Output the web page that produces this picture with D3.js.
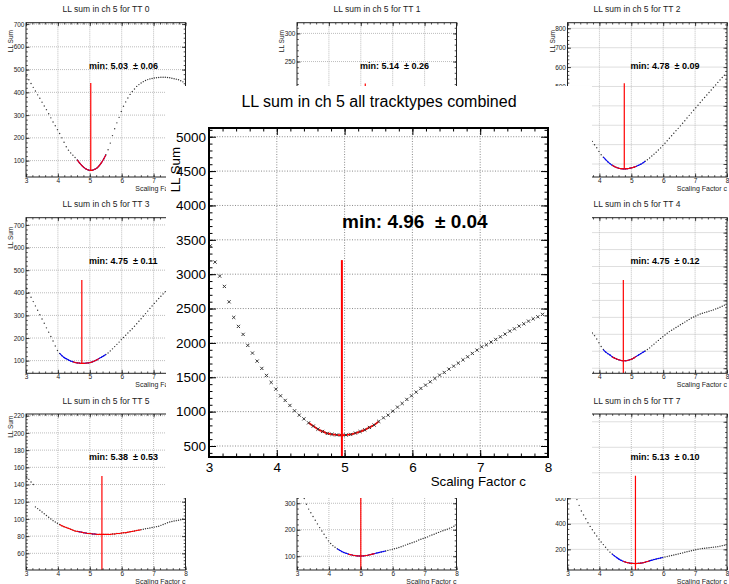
<!DOCTYPE html>
<html>
<head>
<meta charset="utf-8">
<script src="https://cdn.jsdelivr.net/npm/d3@7"></script>
<style>
body { margin: 0; background: #fff; }
svg { display: block; font-family: 'Liberation Sans', Arial, Helvetica, sans-serif; }
</style>
</head>
<body>
<script>
// Valeurs
var scalingFactor = [3.020,3.089,3.158,3.227,3.296,3.365,3.434,3.503,3.572,3.641,3.710,3.779,3.848,3.917,3.986,4.055,4.124,4.193,4.262,4.331,4.400,4.469,4.538,4.607,4.676,4.745,4.814,4.883,4.952,5.021,5.090,5.159,5.228,5.297,5.366,5.435,5.504,5.573,5.642,5.711,5.780,5.849,5.918,5.987,6.056,6.125,6.194,6.263,6.332,6.401,6.470,6.539,6.608,6.677,6.746,6.815,6.884,6.953,7.022,7.091,7.160,7.229,7.298,7.367,7.436,7.505,7.574,7.643,7.712,7.781,7.850,7.919]

var llSumAll = [3413,3176,2972,2822,2598,2371,2240,2124,1964,1852,1735,1629,1527,1425,1328,1230,1163,1090,1012,949,895,837,
    790,745,712,683,670,662,658,660,668,688,710,735,770,805,858,
    910,949,1007,1066,1119,1178,1230,1284,1338,1386,1434,1483,1531,1570,1619,1662,1706,1754,1798,1847,1895,1943,1972,2012,2051,2089,2128,2172,2205,2245,2278,2317,2351,2380,2415]

var llSumTT0 = [472,455,439,422,406,389,374,357,340,324,306,288,270,253,236,219,200,181,161,146,134,124,114,103,90,79,70,63,59,57,58,62,68,78,91,107,126,148,177,210,240,266,290,316,339,358,375,391,404,415,426,434,441,447,452,456,459,461,463,464,465,466,466,466,465,464,462,460,458,455,451,446]
var llSumTT1 = [200,195,190,185,180,175,170,165,160,155,150,145,140,135,130,125,120,115,111,107,103,100,97,94,92,90,88,87,86,85,85,85,85,86,87,88,90,92,94,96,98,100,103,106,109,112,115,118,121,124,127,130,133,136,139,142,145,148,151,154,157,160,163,166,169,172,175,178,181,184,187,190]
var llSumTT2 = [420,404,388,371,354,336,318,299,279,258,237,217,199,184,165,148,135,123,112,102,94,87,82,78,76,75,75,76,78,81,84,88,93,99,106,114,122,131,141,151,161,172,183,195,207,220,233,246,259,272,284,297,310,323,337,351,364,377,390,403,417,430,443,456,469,482,495,508,521,534,546,558]
var llSumTT3 = [420,400,380,361,342,323,303,284,265,245,226,207,187,165,145,132,122,114,108,103,98,95,92,90,89,88,88,89,90,92,95,99,104,110,115,121,127,134,143,152,162,172,182,193,202,212,222,232,241,252,263,274,285,296,308,319,331,342,353,364,375,385,395,405,415,425,435,445,455,465,474,484]
var llSumTT4 = [330,312,295,277,259,242,224,207,190,173,162,154,146,136,125,114,105,98,93,89,84,80,77,75,73,72,72,73,75,77,81,85,89,93,97,101,105,110,116,121,127,132,138,143,148,153,158,162,166,170,174,178,182,186,190,194,198,201,204,207,210,212,214,216,218,220,222,225,227,230,233,236]
var llSumTT5 = [149,146,143,140,114,112,110,108,106,104,102,100,98,96.5,95,93.5,92,91,90,89,88,87,86,85.5,85,84.5,84,83.5,83,83,82.5,82.5,82,82,82,82,82,82,82,82.5,82.5,83,83,83.5,84,84,84.5,85,85.5,86,86.5,87,87.5,88,88.5,89,89.5,90,90.5,91,91.5,92.5,93.5,94.5,95.5,96.5,97,97.5,98,98.5,99,100]
var llSumTT6 = [384,362,340,318,296,278,264,250,236,222,208,195,183,170,158,148,140,134,128,123,118,114,111,108,106,104,102.5,101.5,101,101,101.5,102.5,104,106,108,110,112,114,116,118,120,122,124,126,128,130,133,136,139,142,145,148,151,154,157,161,164,167,170,173,177,180,183,187,190,193,196,199,202,206,209,213]
var llSumTT7 = [800,745,690,640,590,545,500,470,440,408,380,354,328,304,280,258,237,216,196,178,163,149,136,124,114,106,100,96,92,90,89,89,90,92,95,99,104,110,115,120,124,128,132,136,140,144,148,152,156,160,164,168,172,177,181,185,189,193,197,201,204,207,209,211,213,215,217,219,221,225,229,233]

var trackTypes = ['0', '1', '2', '3', '4', '5', '6', '7']
var minima = [5.03, 5.14, 4.78, 4.75, 4.75, 5.38, 5.00, 5.13]
var minErrors = [0.06, 0.26, 0.09, 0.11, 0.12, 0.53, null, 0.10]
var lineTop = [441, 211, 516, 457, 310, 150, 400, 777]
var lineBottom = [57, 85, 75, 88, 35, 40.6, 48, 38]
var redRange = [[4.55, 5.55], [4.7, 5.6], [4.35, 5.22], [4.43, 5.31], [4.38, 5.22], [4.0, 6.67], [4.55, 5.49], [4.71, 5.59]]
var blueRange = [[4.55, 5.55], [4.4, 5.9], [4.06, 5.49], [4.01, 5.52], [4.06, 5.49], [4.58, 5.26], [4.24, 5.80], [4.40, 6.01]]
var yDomains = [[28, 706], [45, 319], [33, 829], [44, 732], [35, 494], [40.6, 222], [48, 637], [38, 1261]]
var yTicks = [
    [100, 200, 300, 400, 500, 600, 700],
    [50, 100, 150, 200, 250, 300],
    [100, 200, 300, 400, 500, 600, 700, 800],
    [100, 200, 300, 400, 500, 600, 700],
    [50, 100, 150, 200, 250, 300, 350, 400, 450],
    [60, 80, 100, 120, 140, 160, 180, 200, 220],
    [100, 200, 300, 400, 500, 600],
    [200, 400, 600, 800, 1000, 1200]
]
var xTicks = [3, 4, 5, 6, 7, 8]

var allMin = 4.96
var allErr = 0.04
var allLineTop = 3205
var allRed = [4.45, 5.51]
var allYDomain = [340, 5127]
var allYTicks = [500, 1000, 1500, 2000, 2500, 3000, 3500, 4000, 4500, 5000]

var llSum = [llSumTT0, llSumTT1, llSumTT2, llSumTT3, llSumTT4, llSumTT5, llSumTT6, llSumTT7]

// Mise en page
var font = "'Liberation Sans', Arial, sans-serif"
var cols = [[26, 185.5], [297, 456.5], [567.5, 727]]
var rows = [[22.7, 177], [217.7, 373.3], [414, 570]]
var titleX = [106, 377, 637]
var yTitleTop = [30, 226.7, 415.7]
var cells = [[0, 0], [1, 0], [2, 0], [0, 1], [2, 1], [0, 2], [1, 2], [2, 2]]
var pad = { x: 166, y: 86, w: 426, h: 412 }

var svg = d3.select('body').append('svg')
    .attr('width', 729)
    .attr('height', 584)

svg.append('rect').attr('width', 729).attr('height', 584).attr('fill', '#fff')

function minorValues(domain, step) {
    var start = Math.ceil(domain[0] / step - 1e-9) * step
    return d3.range(start, domain[1] + 1e-9, step)
}

function fmtMin(m, e) {
    return 'min: ' + m.toFixed(2) + '\u00a0 \u00b1 ' + e.toFixed(2)
}

function drawAxes(g, x, y, fx, fy, yt, o) {
    var ySteps = yt[1] - yt[0]
    var xMinor = minorValues(x.domain(), 0.2)
    var yMinor = minorValues(y.domain(), ySteps / 5)

    var clean = sel => sel.call(a => a.select('.domain').remove())
        .attr('color', o.colour)

    // bas (avec etiquettes)
    g.append('g').attr('transform', `translate(0,${fy[1]})`)
        .call(d3.axisBottom(x).tickValues(xTicks).tickSize(-o.major).tickPadding(o.xPad).tickFormat(d3.format('d')))
        .call(clean)
        .attr('font-size', o.labelSize).attr('font-family', font)
    g.append('g').attr('transform', `translate(0,${fy[1]})`)
        .call(d3.axisBottom(x).tickValues(xMinor).tickSize(-o.minor).tickFormat(''))
        .call(clean)
    // haut
    g.append('g').attr('transform', `translate(0,${fy[0]})`)
        .call(d3.axisTop(x).tickValues(xTicks).tickSize(-o.major).tickFormat(''))
        .call(clean)
    g.append('g').attr('transform', `translate(0,${fy[0]})`)
        .call(d3.axisTop(x).tickValues(xMinor).tickSize(-o.minor).tickFormat(''))
        .call(clean)
    // gauche (avec etiquettes)
    g.append('g').attr('transform', `translate(${fx[0]},0)`)
        .call(d3.axisLeft(y).tickValues(yt).tickSize(-o.major).tickPadding(o.yPad).tickFormat(d3.format('d')))
        .call(clean)
        .attr('font-size', o.labelSize).attr('font-family', font)
    g.append('g').attr('transform', `translate(${fx[0]},0)`)
        .call(d3.axisLeft(y).tickValues(yMinor).tickSize(-o.minor).tickFormat(''))
        .call(clean)
    // droite
    g.append('g').attr('transform', `translate(${fx[1]},0)`)
        .call(d3.axisRight(y).tickValues(yt).tickSize(-o.major).tickFormat(''))
        .call(clean)
    g.append('g').attr('transform', `translate(${fx[1]},0)`)
        .call(d3.axisRight(y).tickValues(yMinor).tickSize(-o.minor).tickFormat(''))
        .call(clean)

    g.selectAll('.tick text').attr('fill', o.textColour)
    g.selectAll('.tick line').attr('stroke-width', o.tickWidth)
}

function drawGrid(g, x, y, fx, fy, yt, stroke, dash) {
    g.append('g').selectAll('line').data(xTicks.slice(1, -1)).join('line')
        .attr('x1', d => x(d)).attr('x2', d => x(d))
        .attr('y1', fy[0]).attr('y2', fy[1])
        .attr('stroke', stroke).attr('stroke-dasharray', dash)
    g.append('g').selectAll('line').data(yt).join('line')
        .attr('x1', fx[0]).attr('x2', fx[1])
        .attr('y1', d => y(d)).attr('y2', d => y(d))
        .attr('stroke', stroke).attr('stroke-dasharray', dash)
}

// Petits panneaux TT 0..7
trackTypes.forEach(function (tt, k) {
    var fx = cols[cells[k][0]]
    var fy = rows[cells[k][1]]
    var x = d3.scaleLinear().domain([3, 8]).range(fx)
    var y = d3.scaleLinear().domain(yDomains[k]).range([fy[1], fy[0]])
    var pts = scalingFactor.map((c, i) => ({ c: c, v: llSum[k][i] }))
    var g = svg.append('g').attr('class', 'small tt' + tt)

    g.append('clipPath').attr('id', 'clip' + k)
        .append('rect')
        .attr('x', fx[0]).attr('y', fy[0])
        .attr('width', fx[1] - fx[0]).attr('height', fy[1] - fy[0])

    drawGrid(g, x, y, fx, fy, yTicks[k], '#bdbdbd', '1,1')

    var plot = g.append('g').attr('clip-path', `url(#clip${k})`)
    plot.selectAll('circle').data(pts).join('circle')
        .attr('cx', d => x(d.c))
        .attr('cy', d => y(d.v))
        .attr('r', 0.7)
        .attr('fill', '#333')

    var line = d3.line().x(d => x(d.c)).y(d => y(d.v)).curve(d3.curveCatmullRom)
    plot.append('path')
        .attr('d', line(pts.filter(d => d.c >= blueRange[k][0] && d.c <= blueRange[k][1])))
        .attr('fill', 'none').attr('stroke', '#0000ff').attr('stroke-width', 1.1)
    plot.append('path')
        .attr('d', line(pts.filter(d => d.c >= redRange[k][0] && d.c <= redRange[k][1])))
        .attr('fill', 'none').attr('stroke', '#ff0000').attr('stroke-width', 1.1)
    plot.append('line')
        .attr('x1', x(minima[k])).attr('x2', x(minima[k]))
        .attr('y1', y(lineBottom[k])).attr('y2', y(lineTop[k]))
        .attr('stroke', '#ff0000').attr('stroke-width', 1.2)

    drawAxes(g, x, y, fx, fy, yTicks[k], {
        major: 3.5, minor: 1.8, xPad: 1, yPad: 1.5, labelSize: 6.5,
        colour: '#222', textColour: '#222', tickWidth: 0.8
    })

    g.append('rect')
        .attr('x', fx[0]).attr('y', fy[0])
        .attr('width', fx[1] - fx[0]).attr('height', fy[1] - fy[0])
        .attr('fill', 'none').attr('stroke', '#222').attr('stroke-width', 1)

    g.append('text')
        .attr('x', titleX[cells[k][0]]).attr('y', fy[0] - 10.5)
        .attr('text-anchor', 'middle')
        .attr('font-size', 8.5).attr('fill', '#222')
        .text('LL sum in ch 5 for TT ' + tt)

    g.append('text')
        .attr('transform', `translate(${fx[0] - 13},${yTitleTop[cells[k][1]]}) rotate(-90)`)
        .attr('text-anchor', 'end')
        .attr('font-size', 6.5).attr('fill', '#222')
        .text('LL Sum')

    g.append('text')
        .attr('x', fx[1]).attr('y', fy[1] + 13.5)
        .attr('text-anchor', 'end')
        .attr('font-size', 7).attr('fill', '#222')
        .text('Scaling Factor c')

    if (minErrors[k] !== null) {
        g.append('text')
            .attr('x', fx[0] + 63).attr('y', fy[0] + 46)
            .attr('font-size', 9).attr('font-weight', 'bold')
            .text(fmtMin(minima[k], minErrors[k]))
    }
})

// les textes entierement recouverts par le panneau central ne se voient pas
svg.selectAll('.small text').each(function () {
    var b = this.getBoundingClientRect()
    if (b.left >= pad.x && b.right <= pad.x + pad.w && b.top >= pad.y && b.bottom <= pad.y + pad.h) {
        d3.select(this).remove()
    }
})

// Panneau central, tous types combines
var bfx = [209, 548]
var bfy = [128, 457]
var bx = d3.scaleLinear().domain([3, 8]).range(bfx)
var by = d3.scaleLinear().domain(allYDomain).range([bfy[1], bfy[0]])
var big = svg.append('g').attr('class', 'combined')

big.append('rect')
    .attr('x', pad.x).attr('y', pad.y).attr('width', pad.w).attr('height', pad.h)
    .attr('fill', '#fff')

big.append('text')
    .attr('x', pad.x + pad.w / 2).attr('y', 107)
    .attr('text-anchor', 'middle')
    .attr('font-size', 16)
    .text('LL sum in ch 5 all tracktypes combined')

drawGrid(big, bx, by, bfx, bfy, allYTicks, '#8a8a8a', '1,1.6')

big.append('clipPath').attr('id', 'clipAll')
    .append('rect')
    .attr('x', bfx[0]).attr('y', bfy[0])
    .attr('width', bfx[1] - bfx[0]).attr('height', bfy[1] - bfy[0])

var bigPts = scalingFactor.map((c, i) => ({ c: c, v: llSumAll[i] }))
var bigPlot = big.append('g').attr('clip-path', 'url(#clipAll)')

bigPlot.append('path')
    .attr('d', d3.line().x(d => bx(d.c)).y(d => by(d.v)).curve(d3.curveCatmullRom)(
        bigPts.filter(d => d.c >= allRed[0] && d.c <= allRed[1])))
    .attr('fill', 'none').attr('stroke', '#ff0000').attr('stroke-width', 1.8)

bigPlot.selectAll('.mark').data(bigPts).join('path')
    .attr('class', 'mark')
    .attr('transform', d => `translate(${bx(d.c)},${by(d.v)})`)
    .attr('d', 'M-1.6,-1.6L1.6,1.6M-1.6,1.6L1.6,-1.6')
    .attr('stroke', '#3a3a3a').attr('stroke-width', 1)

bigPlot.append('line')
    .attr('x1', bx(allMin)).attr('x2', bx(allMin))
    .attr('y1', bfy[1]).attr('y2', by(allLineTop))
    .attr('stroke', '#ff0000').attr('stroke-width', 2)

drawAxes(big, bx, by, bfx, bfy, allYTicks, {
    major: 7, minor: 3.5, xPad: 5, yPad: 3, labelSize: 13.5,
    colour: '#000', textColour: '#000', tickWidth: 1
})

big.append('rect')
    .attr('x', bfx[0]).attr('y', bfy[0])
    .attr('width', bfx[1] - bfx[0]).attr('height', bfy[1] - bfy[0])
    .attr('fill', 'none').attr('stroke', '#000').attr('stroke-width', 2)

big.append('text')
    .attr('x', 526).attr('y', 485.5)
    .attr('text-anchor', 'end')
    .attr('font-size', 13.3)
    .text('Scaling Factor c')

big.append('text')
    .attr('transform', 'translate(180,147) rotate(-90)')
    .attr('text-anchor', 'end')
    .attr('font-size', 13.3)
    .text('LL Sum')

big.append('text')
    .attr('x', bfx[0] + 133).attr('y', bfy[0] + 100)
    .attr('font-size', 19).attr('font-weight', 'bold')
    .text(fmtMin(allMin, allErr))
</script>
</body>
</html>
